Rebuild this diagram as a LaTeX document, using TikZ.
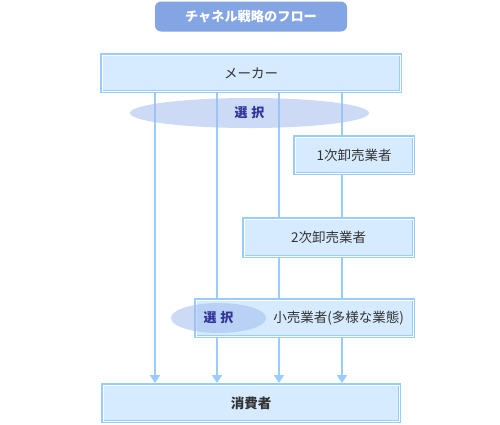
\documentclass[tikz,border=0pt]{standalone}
\usepackage{fontspec}
\setmainfont{Noto Sans CJK JP}
\usetikzlibrary{arrows.meta,shapes.geometric}
\definecolor{bd}{HTML}{99CCFF}
\definecolor{fl}{HTML}{D6EBFF}
\definecolor{tt}{HTML}{333333}
\definecolor{hd}{HTML}{84A5E4}
\definecolor{el}{HTML}{A2BCED}
\definecolor{sel}{HTML}{333399}
\tikzset{
  boxnode/.style={draw=bd, line width=3pt, fill=fl, rectangle, inner sep=0pt,
    text=tt, font=\fontsize{13.5}{15}\selectfont},
  innerline/.style={draw=white, line width=1pt},
  flow/.style={draw=bd, line width=2.5pt, -{Triangle[width=10pt,length=8pt]}},
  selnode/.style={ellipse, fill=el, fill opacity=0.55, text opacity=1, inner sep=0pt,
    text=sel, font=\fontsize{13}{15}\selectfont\bfseries},
  headnode/.style={fill=hd, rounded corners=6pt, text=white, inner sep=0pt,
    font=\fontsize{13.2}{15}\selectfont\bfseries}
}
\begin{document}
\begin{tikzpicture}[x=1pt,y=-1pt]
\useasboundingbox (0,0) rectangle (500,424);
% title
\node[headnode, minimum width=192pt, minimum height=30pt] (title) at (251,16.5) {チャネル戦略のフロー};
% x positions of flows
\coordinate (x1) at (155,0);
\coordinate (x2) at (217,0);
\coordinate (x3) at (279,0);
\coordinate (x4) at (342,0);
% end boxes
\node[boxnode, minimum width=299pt, minimum height=37pt] (maker) at (251,73) {メーカー};
\node[boxnode, minimum width=297pt, minimum height=37pt, font=\fontsize{13.5}{15}\selectfont\bfseries] (cons) at (251,403) {消費者};
% flows
\draw[flow] (maker.south -| x1) -- (cons.north -| x1);
\draw[flow] (maker.south -| x2) -- (cons.north -| x2);
\draw[flow] (maker.south -| x3) -- (cons.north -| x3);
\draw[flow] (maker.south -| x4) -- (cons.north -| x4);
% top selection ellipse
\node[selnode, minimum width=239pt, minimum height=30pt] (sel1) at (249.5,113) {選\hspace{4pt}択};
% intermediate boxes
\node[boxnode, minimum width=119pt, minimum height=37pt] (w1) at (354,155) {1次卸売業者};
\node[boxnode, minimum width=170pt, minimum height=38pt] (w2) at (328.5,237.5) {2次卸売業者};
\node[boxnode, minimum width=218pt, minimum height=37pt, text width=199pt, align=right] (ret) at (304.5,318) {小売業者(多様な業態)};
% inner white lines
\foreach \n in {maker,w1,w2,ret,cons}
  \draw[innerline] ([shift={(2pt,-2pt)}]\n.north west) rectangle ([shift={(-2pt,2pt)}]\n.south east);
% retail selection ellipse
\node[selnode, minimum width=95pt, minimum height=30pt] (sel2) at (218.5,318) {選\hspace{4pt}択};
\end{tikzpicture}
\end{document}
